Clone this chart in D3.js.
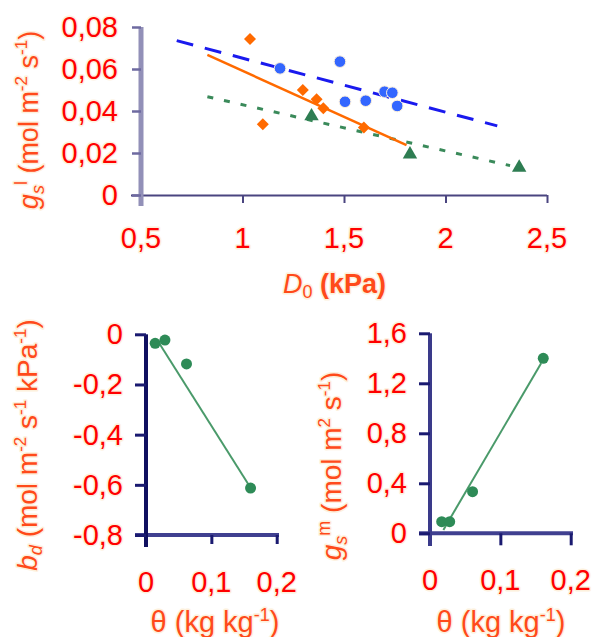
<!DOCTYPE html>
<html><head><meta charset="utf-8">
<script src="https://cdn.jsdelivr.net/npm/d3@7"></script>
<style>
body{margin:0;background:#fff;}
svg{display:block;}
text{font-family:"Liberation Sans",Arial,sans-serif;paint-order:stroke;stroke:#fdf0dc;stroke-width:3px;stroke-linejoin:round;}
</style></head><body>
<svg id="c" width="596" height="637"></svg>
<script>
// ---- top panel data ----
const topXTicks = [0.5, 1, 1.5, 2, 2.5];
const topYTicks = [0, 0.02, 0.04, 0.06, 0.08];
const orangeX = [1.037, 1.10, 1.297, 1.365, 1.398, 1.598];
const orangeY = [0.0743, 0.0337, 0.050, 0.0456, 0.0413, 0.0322];
const blueX = [1.185, 1.48, 1.505, 1.607, 1.70, 1.738, 1.762];
const blueY = [0.0603, 0.0635, 0.0444, 0.0449, 0.0492, 0.0487, 0.0424];
const greenX = [1.34, 1.825, 2.363];
const greenY = [0.038, 0.0198, 0.0135];
const orangeFitX = [0.827, 1.808], orangeFitY = [0.0667, 0.0238];
const blueFitX = [0.676, 2.255], blueFitY = [0.0735, 0.0329];
const greenFitX = [0.827, 2.318], greenFitY = [0.0468, 0.014];
// ---- bottom-left data ----
const blXTicks = [0, 0.1, 0.2];
const blYTicks = [0, -0.2, -0.4, -0.6, -0.8];
const thetaL = [0.014, 0.029, 0.062, 0.160];
const bd = [-0.036, -0.023, -0.118, -0.613];
const blFitX = [0.02, 0.16], blFitY = [-0.035, -0.612];
// ---- bottom-right data ----
const brXTicks = [0, 0.1, 0.2];
const brYTicks = [0, 0.4, 0.8, 1.2, 1.6];
const thetaR = [0.0166, 0.028, 0.0605, 0.161];
const gsm = [0.093, 0.093, 0.333, 1.40];
const brFitX = [0.019, 0.158], brFitY = [0.027, 1.36];

const fmt = v => String(v).replace('.', ',');
const svg = d3.select('#c');
const RED = '#ff0000', TITLE = '#ff4a1a';

function tickLabelsY(g, y, ticks, xr, fs) {
  g.selectAll(null).data(ticks).join('text')
    .attr('x', xr).attr('y', d => y(d)).attr('text-anchor', 'end')
    .attr('dominant-baseline', 'central').attr('fill', RED)
    .attr('font-size', fs).text(fmt);
}
function tickLabelsX(g, x, ticks, yc, fs) {
  g.selectAll(null).data(ticks).join('text')
    .attr('x', d => x(d)).attr('y', yc).attr('text-anchor', 'middle')
    .attr('dominant-baseline', 'central').attr('fill', RED)
    .attr('font-size', fs).text(fmt);
}
function thetaTitle(g, xc) {
  const xt = g.append('text').attr('x', xc).attr('y', 632).attr('text-anchor', 'middle')
    .attr('fill', TITLE).attr('font-size', 29);
  xt.append('tspan').text('θ (kg kg');
  xt.append('tspan').attr('font-size', 18).attr('dy', -11).text('-1');
  xt.append('tspan').attr('dy', 11).text(')');
}

// ================= TOP =================
{
  const x = d3.scaleLinear().domain([0.5, 2.5]).range([141, 547]);
  const y = d3.scaleLinear().domain([0, 0.08]).range([195, 27]);
  const g = svg.append('g');
  const xa = g.append('g').attr('transform', 'translate(0,195)')
    .call(d3.axisBottom(x).tickValues(topXTicks).tickSize(8).tickFormat(''));
  xa.select('.domain').attr('d', `M131,0.5H547`).attr('stroke', '#4a4580').attr('stroke-width', 2);
  xa.selectAll('.tick line').attr('stroke', '#4a4580').attr('stroke-width', 2);
  const ya = g.append('g').attr('transform', 'translate(141,0)')
    .call(d3.axisLeft(y).tickValues(topYTicks).tickSize(9).tickFormat(''));
  ya.select('.domain').attr('d', `M0,${y(0.08)}V206`).attr('stroke', '#9290b8').attr('stroke-width', 5);
  ya.selectAll('.tick line').attr('stroke', '#6e6aa0').attr('stroke-width', 2.5);
  tickLabelsY(g, y, topYTicks, 118, 29);
  tickLabelsX(g, x, topXTicks, 238, 29);

  const line = d3.line().x(d => x(d[0])).y(d => y(d[1]));
  g.append('path').attr('d', line(d3.zip(blueFitX, blueFitY))).attr('fill', 'none')
    .attr('stroke', '#1a1aee').attr('stroke-width', 3).attr('stroke-dasharray', '17,12');
  g.append('path').attr('d', line(d3.zip(greenFitX, greenFitY))).attr('fill', 'none')
    .attr('stroke', '#3a8a5a').attr('stroke-width', 3).attr('stroke-dasharray', '6,11');
  g.append('path').attr('d', line(d3.zip(orangeFitX, orangeFitY))).attr('fill', 'none')
    .attr('stroke', '#ff6a00').attr('stroke-width', 2.5);

  g.selectAll(null).data(d3.zip(blueX, blueY)).join('circle')
    .attr('cx', d => x(d[0])).attr('cy', d => y(d[1])).attr('r', 5.8)
    .attr('fill', '#3366ff').attr('stroke', '#fdf0dc').attr('stroke-width', 1);
  g.selectAll(null).data(d3.zip(orangeX, orangeY)).join('path')
    .attr('transform', d => `translate(${x(d[0])},${y(d[1])}) rotate(45)`)
    .attr('d', d3.symbol(d3.symbolSquare, 72)).attr('fill', '#ff6a00');
  g.selectAll(null).data(d3.zip(greenX, greenY)).join('path')
    .attr('transform', d => `translate(${x(d[0])},${y(d[1]) + 1})`)
    .attr('d', d3.symbol(d3.symbolTriangle, 90)).attr('fill', '#2e7d52');

  const yt = g.append('text').attr('transform', 'translate(38,120) rotate(-90)')
    .attr('text-anchor', 'middle').attr('fill', TITLE).attr('font-size', 27);
  yt.append('tspan').attr('font-style', 'italic').text('g');
  yt.append('tspan').attr('font-style', 'italic').attr('font-size', 18).attr('dy', 6).text('s');
  yt.append('tspan').attr('font-size', 18).attr('dy', -17).text('l');
  yt.append('tspan').attr('dy', 11).text(' (mol m');
  yt.append('tspan').attr('font-size', 17).attr('dy', -11).text('-2');
  yt.append('tspan').attr('dy', 11).text(' s');
  yt.append('tspan').attr('font-size', 17).attr('dy', -11).text('-1');
  yt.append('tspan').attr('dy', 11).text(')');

  const xt = g.append('text').attr('x', 283).attr('y', 293).attr('fill', TITLE).attr('font-size', 27);
  xt.append('tspan').attr('font-style', 'italic').text('D');
  xt.append('tspan').attr('font-size', 18).attr('dy', 5).text('0');
  xt.append('tspan').attr('font-weight', 'bold').attr('dy', -5).text(' (kPa)');
}

// ================= BOTTOM LEFT =================
{
  const x = d3.scaleLinear().domain([0, 0.2]).range([146, 276.7]);
  const y = d3.scaleLinear().domain([-0.8, 0]).range([535, 334.3]);
  const g = svg.append('g');
  const xa = g.append('g').attr('transform', 'translate(0,535)')
    .call(d3.axisBottom(x).tickValues(blXTicks).tickSize(9).tickFormat(''));
  xa.select('.domain').attr('d', 'M135,0H279').attr('stroke', '#404090').attr('stroke-width', 4);
  xa.selectAll('.tick line').attr('stroke', '#1a1a70').attr('stroke-width', 3);
  const ya = g.append('g').attr('transform', 'translate(146,0)')
    .call(d3.axisLeft(y).tickValues(blYTicks).tickSize(11).tickFormat(''));
  ya.select('.domain').attr('d', `M0,${y(0)}V547`).attr('stroke', '#101060').attr('stroke-width', 4);
  ya.selectAll('.tick line').attr('stroke', '#1a1a70').attr('stroke-width', 3);
  tickLabelsY(g, y, blYTicks, 123, 29);
  tickLabelsX(g, x, blXTicks, 582, 29);

  const line = d3.line().x(d => x(d[0])).y(d => y(d[1]));
  g.append('path').attr('d', line(d3.zip(blFitX, blFitY))).attr('fill', 'none')
    .attr('stroke', '#4a9a6a').attr('stroke-width', 2);
  g.selectAll(null).data(d3.zip(thetaL, bd)).join('circle')
    .attr('cx', d => x(d[0])).attr('cy', d => y(d[1])).attr('r', 5.5)
    .attr('fill', '#2e8b57');

  const yt = g.append('text').attr('transform', 'translate(37,445) rotate(-90)')
    .attr('text-anchor', 'middle').attr('fill', TITLE).attr('font-size', 28);
  yt.append('tspan').attr('font-style', 'italic').text('b');
  yt.append('tspan').attr('font-style', 'italic').attr('font-size', 18).attr('dy', 5).text('d');
  yt.append('tspan').attr('dy', -5).text(' (mol m');
  yt.append('tspan').attr('font-size', 17).attr('dy', -11).text('-2');
  yt.append('tspan').attr('dy', 11).text(' s');
  yt.append('tspan').attr('font-size', 17).attr('dy', -11).text('-1');
  yt.append('tspan').attr('dy', 11).text(' kPa');
  yt.append('tspan').attr('font-size', 17).attr('dy', -11).text('-1');
  yt.append('tspan').attr('dy', 11).text(')');

  thetaTitle(g, 215);
}

// ================= BOTTOM RIGHT =================
{
  const x = d3.scaleLinear().domain([0, 0.2]).range([430, 570.7]);
  const y = d3.scaleLinear().domain([0, 1.6]).range([533.3, 333.3]);
  const g = svg.append('g');
  const xa = g.append('g').attr('transform', 'translate(0,533.3)')
    .call(d3.axisBottom(x).tickValues(brXTicks).tickSize(12).tickFormat(''));
  xa.select('.domain').attr('d', 'M419,0H573').attr('stroke', '#404090').attr('stroke-width', 4);
  xa.selectAll('.tick line').attr('stroke', '#1a1a70').attr('stroke-width', 3);
  const ya = g.append('g').attr('transform', 'translate(430,0)')
    .call(d3.axisLeft(y).tickValues(brYTicks).tickSize(11).tickFormat(''));
  ya.select('.domain').attr('d', `M0,${y(1.6)}V546`).attr('stroke', '#3a3a8a').attr('stroke-width', 4);
  ya.selectAll('.tick line').attr('stroke', '#1a1a70').attr('stroke-width', 3);
  tickLabelsY(g, y, brYTicks, 407, 29);
  tickLabelsX(g, x, brXTicks, 580, 29);

  const line = d3.line().x(d => x(d[0])).y(d => y(d[1]));
  g.append('path').attr('d', line(d3.zip(brFitX, brFitY))).attr('fill', 'none')
    .attr('stroke', '#4a9a6a').attr('stroke-width', 2);
  g.selectAll(null).data(d3.zip(thetaR, gsm)).join('circle')
    .attr('cx', d => x(d[0])).attr('cy', d => y(d[1])).attr('r', 5.5)
    .attr('fill', '#2e8b57');

  const yt = g.append('text').attr('transform', 'translate(341,466) rotate(-90)')
    .attr('text-anchor', 'middle').attr('fill', TITLE).attr('font-size', 28);
  yt.append('tspan').attr('font-style', 'italic').text('g');
  yt.append('tspan').attr('font-style', 'italic').attr('font-size', 18).attr('dy', 6).text('s');
  yt.append('tspan').attr('font-size', 18).attr('dy', -17).text('m');
  yt.append('tspan').attr('dy', 11).text(' (mol m');
  yt.append('tspan').attr('font-size', 17).attr('dy', -11).text('2');
  yt.append('tspan').attr('dy', 11).text(' s');
  yt.append('tspan').attr('font-size', 17).attr('dy', -11).text('-1');
  yt.append('tspan').attr('dy', 11).text(')');

  thetaTitle(g, 501);
}
</script>
</body></html>
